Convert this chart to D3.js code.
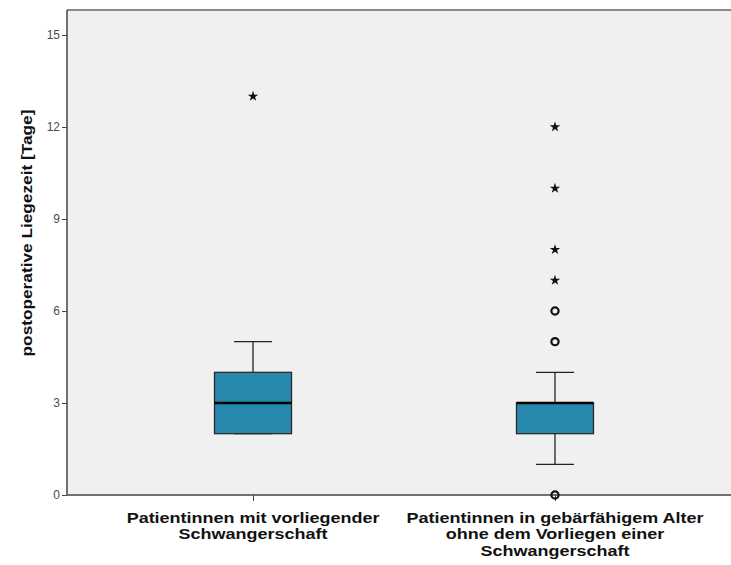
<!DOCTYPE html>
<html>
<head>
<meta charset="utf-8">
<script src="https://cdn.jsdelivr.net/npm/d3@7"></script>
<style>
  html, body { margin: 0; padding: 0; background: #fff; }
  svg { display: block; }
</style>
</head>
<body>
<svg id="chart" width="731" height="565"></svg>
<script>
// Boxplot groups
const categories = [
  ["Patientinnen mit vorliegender", "Schwangerschaft"],
  ["Patientinnen in gebärfähigem Alter", "ohne dem Vorliegen einer", "Schwangerschaft"]
];
const whiskerLow  = [2, 1];
const q1          = [2, 2];
const median      = [3, 3];
const q3          = [4, 3];
const whiskerHigh = [5, 4];
// Outliers (circles) and extreme values (stars)
const outliers = [[], [0, 5, 6]];
const extremes = [[13], [7, 8, 10, 12]];
const yTicks = [0, 3, 6, 9, 12, 15];
const yTitle = "postoperative Liegezeit [Tage]";

const svg = d3.select("#chart");
const plot = { left: 67, top: 10, right: 741, bottom: 495 };
const font = "Liberation Sans, Arial, sans-serif";

const y = d3.scaleLinear().domain([0, 15]).range([plot.bottom, 35]);
const x = d3.scalePoint().domain(d3.range(categories.length))
  .range([plot.left, plot.right]).padding(0.616);

// plot background
svg.append("rect")
  .attr("x", plot.left).attr("y", plot.top)
  .attr("width", plot.right - plot.left).attr("height", plot.bottom - plot.top)
  .attr("fill", "#f0f0f0");

// top frame line
svg.append("line").attr("x1", plot.left).attr("x2", plot.right)
  .attr("y1", plot.top).attr("y2", plot.top)
  .attr("stroke", "#8a8a8a").attr("stroke-width", 2);

// y axis
const yAxis = svg.append("g").attr("transform", `translate(${plot.left},0)`)
  .call(d3.axisLeft(y).tickValues(yTicks).tickSize(5).tickPadding(2).tickSizeOuter(0));
yAxis.select(".domain").attr("stroke", "#444").attr("stroke-width", 1.5)
  .attr("d", `M0,${plot.top}V${plot.bottom}`);
yAxis.selectAll(".tick line").attr("stroke", "#444");
yAxis.selectAll(".tick text").attr("fill", "#4a4a4a")
  .style("font-family", font).style("font-size", "12px");

// x axis
const xAxis = svg.append("g").attr("transform", `translate(0,${plot.bottom})`)
  .call(d3.axisBottom(x).tickSize(6).tickFormat(""));
xAxis.select(".domain").attr("stroke", "#444").attr("stroke-width", 1.5)
  .attr("d", `M${plot.left},0H${plot.right}`);
xAxis.selectAll(".tick line").attr("stroke", "#444");

// category labels (wide bold face)
const labels = svg.append("g")
  .style("font-family", font)
  .style("font-size", "15px").style("font-weight", "bold")
  .attr("text-anchor", "middle").attr("fill", "#111");
categories.forEach((lines, i) => {
  const t = labels.append("text")
    .attr("transform", `translate(${x(i)},523) scale(1.2,1)`);
  lines.forEach((ln, j) => {
    t.append("tspan").attr("x", 0).attr("y", j * 16.5).text(ln);
  });
});

// y title
svg.append("text")
  .attr("transform", `translate(32,233) rotate(-90) scale(1.15,1)`)
  .attr("text-anchor", "middle")
  .style("font-family", font)
  .style("font-size", "15px").style("font-weight", "bold")
  .attr("fill", "#111")
  .text(yTitle);

// boxes
const boxW = 77, capW = 38;
const g = svg.append("g");
categories.forEach((_, i) => {
  const cx = x(i);
  // whiskers
  g.append("line").attr("x1", cx).attr("x2", cx)
    .attr("y1", y(q3[i])).attr("y2", y(whiskerHigh[i]))
    .attr("stroke", "#222").attr("stroke-width", 1.3);
  g.append("line").attr("x1", cx).attr("x2", cx)
    .attr("y1", y(q1[i])).attr("y2", y(whiskerLow[i]))
    .attr("stroke", "#222").attr("stroke-width", 1.3);
  [whiskerHigh[i], whiskerLow[i]].forEach(v => {
    g.append("line").attr("x1", cx - capW / 2).attr("x2", cx + capW / 2)
      .attr("y1", y(v)).attr("y2", y(v))
      .attr("stroke", "#222").attr("stroke-width", 1.3);
  });
  // box
  g.append("rect")
    .attr("x", cx - boxW / 2).attr("width", boxW)
    .attr("y", y(q3[i])).attr("height", y(q1[i]) - y(q3[i]))
    .attr("fill", "#2789ad").attr("stroke", "#2a2a2a").attr("stroke-width", 1.3);
  // median
  g.append("line").attr("x1", cx - boxW / 2).attr("x2", cx + boxW / 2)
    .attr("y1", y(median[i])).attr("y2", y(median[i]))
    .attr("stroke", "#000").attr("stroke-width", 2.6);
  // outliers
  outliers[i].forEach(v => {
    g.append("circle").attr("cx", cx).attr("cy", y(v)).attr("r", 3.6)
      .attr("fill", "none").attr("stroke", "#111").attr("stroke-width", 2.2);
  });
  // extremes
  const star = d3.symbol().type(d3.symbolStar).size(34);
  extremes[i].forEach(v => {
    g.append("path").attr("d", star())
      .attr("transform", `translate(${cx},${y(v)})`)
      .attr("fill", "#111");
  });
});
</script>
</body>
</html>
